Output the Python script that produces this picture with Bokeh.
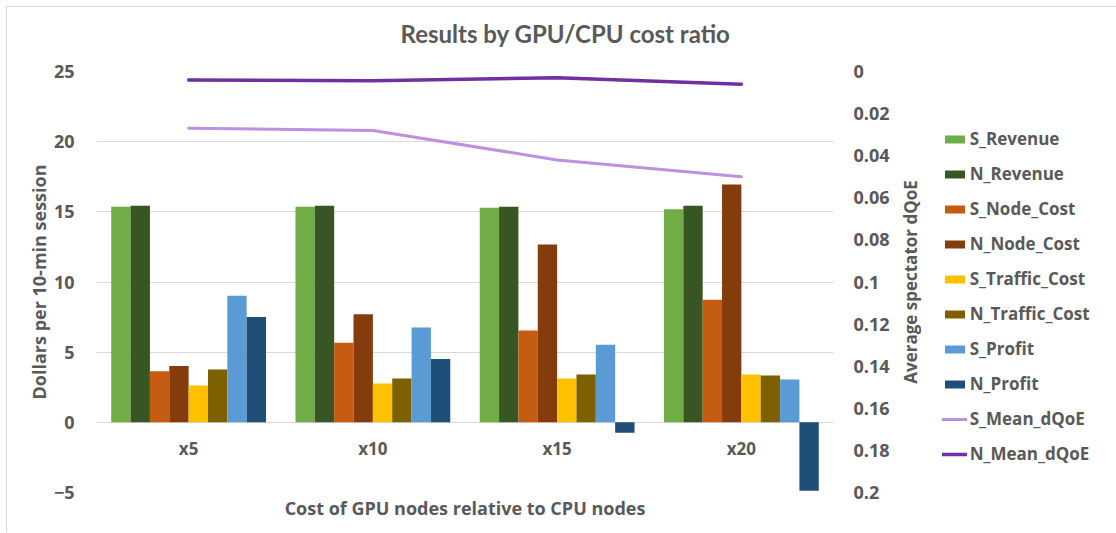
import math
from bokeh.plotting import figure
from bokeh.models import (Range1d, LinearAxis, FixedTicker, Legend, LegendItem, Label,
                          ColumnDataSource, FactorRange, Title, CustomJSTickFormatter)
from bokeh.transform import dodge
from bokeh.core.properties import value
from bokeh.embed import file_html
from bokeh.resources import INLINE

categories = ["x5", "x10", "x15", "x20"]
s_revenue = [15.36, 15.36, 15.29, 15.19]
n_revenue = [15.43, 15.43, 15.36, 15.43]
s_node_cost = [3.64, 5.67, 6.55, 8.74]
n_node_cost = [4.02, 7.71, 12.67, 16.95]
s_traffic_cost = [2.62, 2.76, 3.12, 3.40]
n_traffic_cost = [3.76, 3.12, 3.40, 3.33]
s_profit = [9.02, 6.76, 5.52, 3.05]
n_profit = [7.50, 4.52, -0.74, -4.88]
s_mean_dqoe = [0.027, 0.028, 0.042, 0.050]
n_mean_dqoe = [0.004, 0.0044, 0.003, 0.006]

left_ticks = [-5, 0, 5, 10, 15, 20, 25]
right_ticks = [0, 0.02, 0.04, 0.06, 0.08, 0.1, 0.12, 0.14, 0.16, 0.18, 0.2]

bar_series = [
    ("S_Revenue", s_revenue, "#70AD47"),
    ("N_Revenue", n_revenue, "#375623"),
    ("S_Node_Cost", s_node_cost, "#C55A11"),
    ("N_Node_Cost", n_node_cost, "#843C0C"),
    ("S_Traffic_Cost", s_traffic_cost, "#FFC000"),
    ("N_Traffic_Cost", n_traffic_cost, "#7F6000"),
    ("S_Profit", s_profit, "#5B9BD5"),
    ("N_Profit", n_profit, "#1F4E79"),
]
line_series = [
    ("S_Mean_dQoE", s_mean_dqoe, "#BF8FE0", 3),
    ("N_Mean_dQoE", n_mean_dqoe, "#7030A0", 3.5),
]

FONT = "Open Sans"
TFONT = "Lato"
GREY = "#595959"

data = {"cat": categories}
for name, vals, _ in bar_series:
    data[name] = vals
for name, vals, _, _ in line_series:
    data[name] = vals
src = ColumnDataSource(data)

p = figure(frame_width=737, frame_height=421, x_range=FactorRange(*categories, range_padding=0),
           y_range=Range1d(-5, 25), output_backend="svg", toolbar_location=None,
           min_border_left=89, min_border_right=280, min_border_top=64, min_border_bottom=40)
p.extra_y_ranges = {"dqoe": Range1d(0.2, 0)}
p.outline_line_color = None
p.styles = {"margin-left": "6px", "margin-top": "6px",
            "border-top": "1px solid #d9d9d9", "border-left": "1px solid #d9d9d9"}

bw = 0.105
items = []
for i, (name, vals, color) in enumerate(bar_series):
    off = (i - 3.5) * bw
    r = p.vbar(x=dodge("cat", off, range=p.x_range), top=name, width=bw, bottom=0,
               source=src, fill_color=color, line_color=None)
    items.append(LegendItem(label=name, renderers=[r]))
for name, vals, color, lw in line_series:
    r = p.line(x="cat", y=name, source=src, line_color=color, line_width=lw,
               y_range_name="dqoe", line_cap="round", line_join="round")
    items.append(LegendItem(label=name, renderers=[r]))

# category labels at the zero line
p.text(x="cat", y=0, text="cat", source=src, y_offset=26, text_align="center",
       text_baseline="middle", text_font=value(FONT), text_font_style="bold",
       text_font_size="17px", text_color=GREY)

# axes
p.xaxis.visible = False
p.xgrid.visible = False
p.yaxis.ticker = FixedTicker(ticks=left_ticks)
p.ygrid.ticker = FixedTicker(ticks=left_ticks)
p.ygrid.grid_line_color = "#d9d9d9"
p.ygrid.grid_line_width = 1
ax = p.yaxis[0]
ax.axis_line_color = None
ax.major_tick_line_color = None
ax.minor_tick_line_color = None
ax.major_label_standoff = 16
ax.major_label_text_font = FONT
ax.major_label_text_font_style = "bold"
ax.major_label_text_font_size = "18px"
ax.major_label_text_color = GREY
ax.axis_label = "Dollars per 10-min session"
ax.axis_label_text_font = FONT
ax.axis_label_text_font_style = "bold"
ax.axis_label_text_font_size = "18px"
ax.axis_label_text_color = GREY
ax.axis_label_standoff = 0

rax = LinearAxis(y_range_name="dqoe", ticker=FixedTicker(ticks=right_ticks),
                 formatter=CustomJSTickFormatter(code="return String(Number(tick.toFixed(2)));"))
rax.axis_line_color = None
rax.major_tick_line_color = None
rax.minor_tick_line_color = None
rax.major_label_standoff = 14
rax.major_label_text_font = FONT
rax.major_label_text_font_style = "bold"
rax.major_label_text_font_size = "18px"
rax.major_label_text_color = GREY
p.add_layout(rax, "right")

legend = Legend(items=items, location=(-109, 27), border_line_color=None,
                background_fill_alpha=0, label_text_font=FONT, label_text_font_style="bold",
                label_text_font_size="17px", label_text_color=GREY, glyph_width=25,
                glyph_height=10, label_height=23, spacing=12, label_standoff=3,
                margin=0, padding=5)
p.add_layout(legend, "right")

# right axis title, reading bottom-to-top, centred on the right axis (plot coordinates)
rlabel = Label(text="Average spectator dQoE", x=4.418, y=0.1, x_units="data", y_units="data",
               y_range_name="dqoe", angle=math.pi / 2, text_align="center",
               text_baseline="middle", text_font=FONT, text_font_style="bold",
               text_font_size="17px", text_color=GREY)
p.add_layout(rlabel, "right")

# chart title
tlabel = Label(text="Results by GPU/CPU cost ratio", x=469, y=38, x_units="screen",
               y_units="screen", text_align="center", text_baseline="middle",
               text_font=TFONT, text_font_style="bold", text_font_size="24px", text_color=GREY)
p.add_layout(tlabel, "above")

p.add_layout(Title(text="Cost of GPU nodes relative to CPU nodes", align="center",
                   text_font=FONT, text_font_style="bold", text_font_size="18px",
                   text_color=GREY, standoff=3), "below")

open("out.html", "w").write(file_html(p, INLINE))
